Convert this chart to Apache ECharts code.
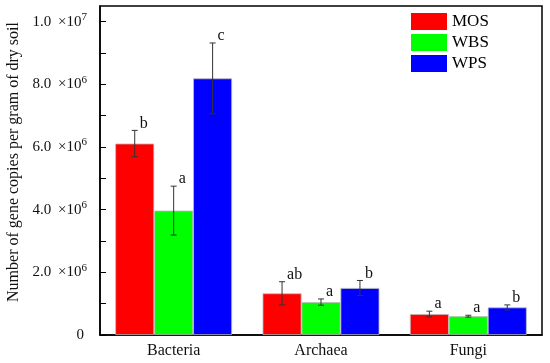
<!DOCTYPE html>
<html><head><meta charset="utf-8">
<script src="https://cdn.jsdelivr.net/npm/echarts@6/dist/echarts.min.js"></script>
<style>html,body{margin:0;padding:0;background:#fff}#c{width:550px;height:363px}</style>
</head><body><div id="c"></div>
<script>
const categories = ['Bacteria', 'Archaea', 'Fungi'];
const seriesNames = ['MOS', 'WBS', 'WPS'];
const mosValues = [6.11e6, 1.33e6, 0.67e6];
const wbsValues = [3.97e6, 1.05e6, 0.60e6];
const wpsValues = [8.19e6, 1.50e6, 0.88e6];
const mosErrors = [0.42e6, 0.37e6, 0.09e6];
const wbsErrors = [0.78e6, 0.10e6, 0.03e6];
const wpsErrors = [1.13e6, 0.24e6, 0.08e6];
const mosLetters = ['b', 'ab', 'a'];
const wbsLetters = ['a', 'a', 'a'];
const wpsLetters = ['c', 'b', 'b'];
const yTickLabels = {0: '0', 2e6: '2.0|6', 4e6: '4.0|6', 6e6: '6.0|6', 8e6: '8.0|6', 1e7: '1.0|7'};

const colors = ['#ff0000', '#00ff00', '#0000ff'];
const allValues = [mosValues, wbsValues, wpsValues];
const allErrors = [mosErrors, wbsErrors, wpsErrors];
const allLetters = [mosLetters, wbsLetters, wpsLetters];
const FONT = '"Liberation Serif", "Times New Roman", serif';
const CAT_GAP = 0.207;

const errData = [];
for (let s = 0; s < 3; s++) for (let c = 0; c < categories.length; c++)
  errData.push([c, allValues[s][c] + allErrors[s][c], s]);

const chart = echarts.init(document.getElementById('c'), null, {renderer: 'canvas'});
chart.setOption({
  animation: false,
  backgroundColor: '#fff',
  grid: {left: 100, right: 8, top: 6, bottom: 28, show: true, borderColor: '#000', borderWidth: 1.5, backgroundColor: 'transparent'},
  legend: {
    orient: 'vertical', left: 406, top: 8, itemWidth: 36, itemHeight: 17, itemGap: 4,
    icon: 'rect', data: seriesNames,
    itemStyle: {borderWidth: 0},
    textStyle: {fontFamily: FONT, fontSize: 17, color: '#000'}
  },
  graphic: [{
    type: 'text', x: 14, y: 162, rotation: Math.PI / 2,
    style: {text: 'Number of gene copies per gram of dry soil', font: '16px ' + FONT, fill: '#111', align: 'center', verticalAlign: 'middle'}
  }],
  xAxis: {
    type: 'category', data: categories,
    axisLine: {lineStyle: {color: '#000', width: 1.5}},
    axisTick: {show: false},
    axisLabel: {fontFamily: FONT, fontSize: 16, color: '#111', margin: 8}
  },
  yAxis: {
    type: 'value', min: 0, max: 10500000, interval: 1e6,
    splitLine: {show: false},
    axisLine: {show: true, lineStyle: {color: '#000', width: 1.5}},
    axisTick: {show: true, inside: true, length: 6, lineStyle: {color: '#000', width: 1}},
    axisLabel: {
      margin: 13, showMaxLabel: false,
      formatter: function (v) {
        const t = yTickLabels[v];
        if (t === undefined) return '';
        if (t.indexOf('|') < 0) return '{m|' + t + '}';
        const p = t.split('|');
        return '{m|' + p[0] + ' }{x|×10}{s|' + p[1] + '}';
      },
      rich: {
        m: {fontFamily: FONT, fontSize: 15, color: '#111', padding: [0, 3, 0, 0]},
        x: {fontFamily: FONT, fontSize: 15, color: '#111'},
        s: {fontFamily: FONT, fontSize: 11, color: '#111', padding: [0, 0, 9, 0]}
      }
    }
  },
  series: seriesNames.map((n, s) => ({
    name: n, type: 'bar', data: allValues[s],
    barGap: '0%', barCategoryGap: (CAT_GAP * 100) + '%',
    itemStyle: {color: colors[s], borderColor: '#bbbbbb', borderWidth: 0.8}
  })).concat([{
    type: 'custom', data: errData, z: 10,
    renderItem: function (params, api) {
      const c = api.value(0), s = api.value(2);
      const mean = allValues[s][c], err = allErrors[s][c];
      const band = api.size([1, 0])[0];
      const bw = band * (1 - CAT_GAP) / 3;
      const center = api.coord([c, mean]);
      const x = center[0] + (s - 1) * bw;
      const yTop = api.coord([c, mean + err])[1];
      const yBot = api.coord([c, mean - err])[1];
      const cap = 3;
      const st = {stroke: '#333', lineWidth: 1};
      return {type: 'group', children: [
        {type: 'line', shape: {x1: x, y1: yTop, x2: x, y2: yBot}, style: st},
        {type: 'line', shape: {x1: x - cap, y1: yTop, x2: x + cap, y2: yTop}, style: st},
        {type: 'line', shape: {x1: x - cap, y1: yBot, x2: x + cap, y2: yBot}, style: st},
        {type: 'text', x: x + 5, y: yTop + 1, style: {text: allLetters[s][c], font: '16px ' + FONT, fill: '#111', align: 'left', verticalAlign: 'bottom'}}
      ]};
    }
  }])
});
</script></body></html>
